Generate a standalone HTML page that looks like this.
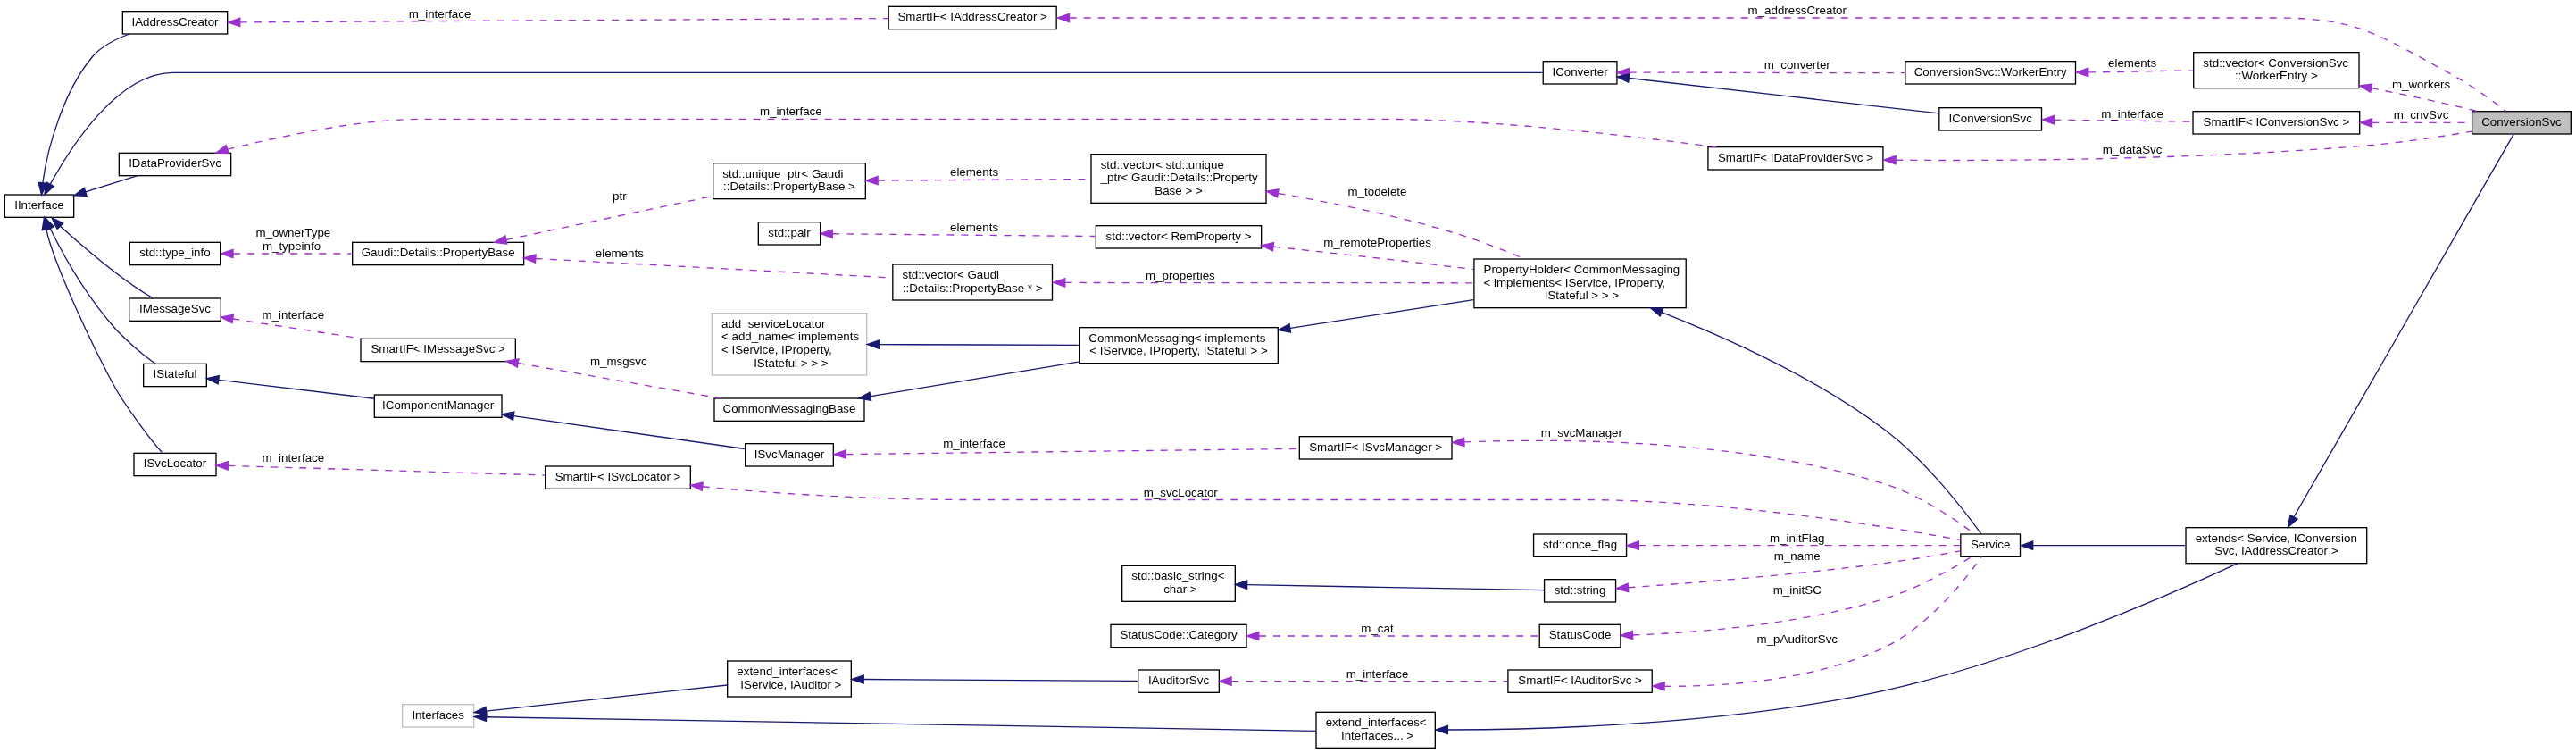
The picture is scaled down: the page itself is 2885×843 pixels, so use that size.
<!DOCTYPE html>
<html><head><meta charset="utf-8"><title>ConversionSvc collaboration graph</title>
<style>
html,body{margin:0;padding:0;background:#fff;}
body{width:2885px;height:843px;overflow:hidden;}
svg{display:block;will-change:transform;}
svg text{white-space:pre;font-family:"Liberation Sans",sans-serif;font-size:13.33px;fill:#000;}
svg rect,svg path,svg polygon{stroke-width:1.33;}
</style></head><body>
<svg width="2885" height="843" viewBox="0 0 2885 843">
<rect x="2768.63" y="124.67" width="110.67" height="25.33" fill="#bfbfbf" stroke="black"/>
<text text-anchor="middle" x="2823.97" y="140.67">ConversionSvc</text>
<rect x="2448.03" y="590.67" width="202.67" height="40" fill="white" stroke="black"/>
<text text-anchor="start" x="2458.7" y="606.67">extends&lt; Service, IConversion</text>
<text text-anchor="middle" x="2549.36" y="621.33">Svc, IAddressCreator &gt;</text>
<rect x="2195.83" y="598" width="66.67" height="25.33" fill="white" stroke="black"/>
<text text-anchor="middle" x="2229.17" y="614">Service</text>
<rect x="1650.9" y="290" width="237.33" height="54.67" fill="white" stroke="black"/>
<text text-anchor="start" x="1661.57" y="306">PropertyHolder&lt; CommonMessaging</text>
<text text-anchor="start" x="1661.57" y="320.67">&lt; implements&lt; IService, IProperty,</text>
<text text-anchor="middle" x="1769.57" y="335.33"> IStateful &gt; &gt; &gt;</text>
<rect x="1208.67" y="366.67" width="222.67" height="40" fill="white" stroke="black"/>
<text text-anchor="start" x="1219.33" y="382.67">CommonMessaging&lt; implements</text>
<text text-anchor="middle" x="1320" y="397.33">&lt; IService, IProperty, IStateful &gt; &gt;</text>
<rect x="797.33" y="350.67" width="173.33" height="69.33" fill="white" stroke="#bfbfbf"/>
<text text-anchor="start" x="808" y="366.67">add_serviceLocator</text>
<text text-anchor="start" x="808" y="381.33">&lt; add_name&lt; implements</text>
<text text-anchor="start" x="808" y="396">&lt; IService, IProperty,</text>
<text text-anchor="middle" x="884" y="410.67"> IStateful &gt; &gt; &gt;</text>
<rect x="800" y="446" width="168" height="25.33" fill="white" stroke="black"/>
<text text-anchor="middle" x="884" y="462">CommonMessagingBase</text>
<rect x="404" y="379.34" width="173.33" height="25.33" fill="white" stroke="black"/>
<text text-anchor="middle" x="490.66" y="395.34">SmartIF&lt; IMessageSvc &gt;</text>
<rect x="144.66" y="334" width="102.67" height="25.33" fill="white" stroke="black"/>
<text text-anchor="middle" x="195.99" y="350">IMessageSvc</text>
<rect x="5.33" y="218" width="77.33" height="25.33" fill="white" stroke="black"/>
<text text-anchor="middle" x="44" y="234">IInterface</text>
<rect x="160.66" y="407.33" width="70.67" height="25.33" fill="white" stroke="black"/>
<text text-anchor="middle" x="195.99" y="423.33">IStateful</text>
<rect x="149.99" y="507.33" width="92" height="25.33" fill="white" stroke="black"/>
<text text-anchor="middle" x="195.99" y="523.33">ISvcLocator</text>
<rect x="137.33" y="12.67" width="117.33" height="25.33" fill="white" stroke="black"/>
<text text-anchor="middle" x="195.99" y="28.67">IAddressCreator</text>
<rect x="1728.23" y="68.67" width="82.67" height="25.33" fill="white" stroke="black"/>
<text text-anchor="middle" x="1769.57" y="84.67">IConverter</text>
<rect x="133.33" y="171.33" width="125.33" height="25.33" fill="white" stroke="black"/>
<text text-anchor="middle" x="195.99" y="187.33">IDataProviderSvc</text>
<rect x="999.83" y="296" width="178.67" height="40" fill="white" stroke="black"/>
<text text-anchor="start" x="1010.5" y="312">std::vector&lt; Gaudi</text>
<text text-anchor="middle" x="1089.17" y="326.66">::Details::PropertyBase * &gt;</text>
<rect x="394.66" y="271.33" width="192" height="25.33" fill="white" stroke="black"/>
<text text-anchor="middle" x="490.66" y="287.33">Gaudi::Details::PropertyBase</text>
<rect x="798.67" y="182.67" width="170.67" height="40" fill="white" stroke="black"/>
<text text-anchor="start" x="809.33" y="198.67">std::unique_ptr&lt; Gaudi</text>
<text text-anchor="middle" x="884" y="213.33">::Details::PropertyBase &gt;</text>
<rect x="145.33" y="271.33" width="101.33" height="25.33" fill="white" stroke="black"/>
<text text-anchor="middle" x="195.99" y="287.33">std::type_info</text>
<rect x="1227.33" y="252.67" width="185.33" height="25.33" fill="white" stroke="black"/>
<text text-anchor="middle" x="1320" y="268.67">std::vector&lt; RemProperty &gt;</text>
<rect x="849.33" y="248.67" width="69.33" height="25.33" fill="white" stroke="black"/>
<text text-anchor="middle" x="884" y="264.67">std::pair</text>
<rect x="1222" y="172.67" width="196" height="54.67" fill="white" stroke="black"/>
<text text-anchor="start" x="1232.67" y="188.67">std::vector&lt; std::unique</text>
<text text-anchor="start" x="1232.67" y="203.33">_ptr&lt; Gaudi::Details::Property</text>
<text text-anchor="middle" x="1320" y="218">Base &gt; &gt;</text>
<rect x="1717.57" y="598" width="104" height="25.33" fill="white" stroke="black"/>
<text text-anchor="middle" x="1769.57" y="614">std::once_flag</text>
<rect x="1455.33" y="488.67" width="170.67" height="25.33" fill="white" stroke="black"/>
<text text-anchor="middle" x="1540.67" y="504.67">SmartIF&lt; ISvcManager &gt;</text>
<rect x="834.67" y="496.67" width="98.67" height="25.33" fill="white" stroke="black"/>
<text text-anchor="middle" x="884" y="512.67">ISvcManager</text>
<rect x="419.33" y="442" width="142.67" height="25.33" fill="white" stroke="black"/>
<text text-anchor="middle" x="490.66" y="458">IComponentManager</text>
<rect x="1729.57" y="648.67" width="80" height="25.33" fill="white" stroke="black"/>
<text text-anchor="middle" x="1769.57" y="664.67">std::string</text>
<rect x="1256.67" y="633.33" width="126.67" height="40" fill="white" stroke="black"/>
<text text-anchor="start" x="1267.33" y="649.33">std::basic_string&lt;</text>
<text text-anchor="middle" x="1320" y="664"> char &gt;</text>
<rect x="610.67" y="522" width="162.67" height="25.33" fill="white" stroke="black"/>
<text text-anchor="middle" x="692" y="538">SmartIF&lt; ISvcLocator &gt;</text>
<rect x="1724.23" y="699.33" width="90.67" height="25.33" fill="white" stroke="black"/>
<text text-anchor="middle" x="1769.57" y="715.33">StatusCode</text>
<rect x="1244" y="699.33" width="152" height="25.33" fill="white" stroke="black"/>
<text text-anchor="middle" x="1320" y="715.33">StatusCode::Category</text>
<rect x="1688.9" y="750" width="161.33" height="25.33" fill="white" stroke="black"/>
<text text-anchor="middle" x="1769.57" y="766">SmartIF&lt; IAuditorSvc &gt;</text>
<rect x="1274.67" y="750" width="90.67" height="25.33" fill="white" stroke="black"/>
<text text-anchor="middle" x="1320" y="766">IAuditorSvc</text>
<rect x="814.67" y="740" width="138.67" height="40" fill="white" stroke="black"/>
<text text-anchor="start" x="825.33" y="756">extend_interfaces&lt;</text>
<text text-anchor="middle" x="884" y="770.67"> IService, IAuditor &gt;</text>
<rect x="450.66" y="788.67" width="80" height="25.33" fill="white" stroke="#bfbfbf"/>
<text text-anchor="middle" x="490.66" y="804.67">Interfaces</text>
<rect x="1474" y="797.33" width="133.33" height="40" fill="white" stroke="black"/>
<text text-anchor="start" x="1484.67" y="813.33">extend_interfaces&lt;</text>
<text text-anchor="middle" x="1540.67" y="828"> Interfaces... &gt;</text>
<rect x="995.17" y="7.33" width="188" height="25.33" fill="white" stroke="black"/>
<text text-anchor="middle" x="1089.17" y="23.33">SmartIF&lt; IAddressCreator &gt;</text>
<rect x="2456.7" y="58.67" width="185.33" height="40" fill="white" stroke="black"/>
<text text-anchor="start" x="2467.36" y="74.67">std::vector&lt; ConversionSvc</text>
<text text-anchor="middle" x="2549.36" y="89.33">::WorkerEntry &gt;</text>
<rect x="2133.83" y="68.66" width="190.67" height="25.33" fill="white" stroke="black"/>
<text text-anchor="middle" x="2229.17" y="84.66">ConversionSvc::WorkerEntry</text>
<rect x="2171.83" y="120.67" width="114.67" height="25.33" fill="white" stroke="black"/>
<text text-anchor="middle" x="2229.17" y="136.67">IConversionSvc</text>
<rect x="2456.03" y="124.67" width="186.67" height="25.33" fill="white" stroke="black"/>
<text text-anchor="middle" x="2549.36" y="140.67">SmartIF&lt; IConversionSvc &gt;</text>
<rect x="1912.93" y="164.66" width="196" height="25.33" fill="white" stroke="black"/>
<text text-anchor="middle" x="2010.93" y="180.66">SmartIF&lt; IDataProviderSvc &gt;</text>
<path fill="none" stroke="midnightblue" d="M2569.33,578.25 C2623.45,484.04 2779.16,213 2815.15,150.36"/>
<polygon fill="midnightblue" stroke="midnightblue" points="2573.08,581.08 2562.4,590.33 2564.98,576.44 2573.08,581.08"/>
<path fill="none" stroke="midnightblue" d="M2276.84,610.67 C2321.3,610.67 2389.95,610.67 2447.05,610.67"/>
<polygon fill="midnightblue" stroke="midnightblue" points="2276.72,615.33 2263.39,610.67 2276.72,606 2276.72,615.33"/>
<path fill="none" stroke="midnightblue" d="M1861.05,349.57 C1932.43,377.61 2032.56,422.73 2109.34,480 2157,515.55 2200.47,572.25 2218.74,597.64"/>
<polygon fill="midnightblue" stroke="midnightblue" points="1859.29,353.89 1848.55,344.71 1862.67,345.2 1859.29,353.89"/>
<path fill="none" stroke="midnightblue" d="M1445.01,367.44 C1509,357.49 1586.87,345.41 1650.2,335.61"/>
<polygon fill="midnightblue" stroke="midnightblue" points="1445.47,372.09 1431.59,369.53 1444.04,362.87 1445.47,372.09"/>
<path fill="none" stroke="midnightblue" d="M984.7,385.64 C1051.15,385.84 1138.85,386.12 1207.76,386.32"/>
<polygon fill="midnightblue" stroke="midnightblue" points="984.63,390.31 971.31,385.6 984.66,380.97 984.63,390.31"/>
<path fill="none" stroke="midnightblue" d="M975.21,443.71 C1042.64,432.47 1135.52,417.04 1207.76,405.05"/>
<polygon fill="midnightblue" stroke="midnightblue" points="975.6,448.37 961.68,445.96 974.06,439.16 975.6,448.37"/>
<path fill="none" stroke="#9a32cd" stroke-dasharray="8,8" d="M580.13,406.53 C580.13,406.53 807.5,446 807.5,446"/>
<polygon fill="#9a32cd" stroke="#9a32cd" points="579.33,411.13 567,404.25 580.93,401.93 579.33,411.13"/>
<text text-anchor="middle" x="691" y="409"> m_msgsvc</text>
<path fill="none" stroke="#9a32cd" stroke-dasharray="8,8" d="M260.68,357.01 C260.68,357.01 406.25,379.25 406.25,379.25"/>
<polygon fill="#9a32cd" stroke="#9a32cd" points="259.97,361.63 247.5,355 261.38,352.4 259.97,361.63"/>
<text text-anchor="middle" x="326.51" y="357.22"> m_interface</text>
<path fill="none" stroke="midnightblue" d="M67.37,253.18 C95,278 140,316 171.25,333.75"/>
<polygon fill="midnightblue" stroke="midnightblue" points="64.05,256.46 58,243.7 70.69,249.89 64.05,256.46"/>
<path fill="none" stroke="midnightblue" d="M56.16,255.77 C73,290 98,333 130,369 141,380.6 160.3,398 173.75,406.75"/>
<polygon fill="midnightblue" stroke="midnightblue" points="51.93,257.75 50.5,243.7 60.39,253.79 51.93,257.75"/>
<path fill="none" stroke="midnightblue" d="M51.8,256.81 C60.5,296 104,389 130,436 140.1,453.2 167.6,491.6 181.25,506.25"/>
<polygon fill="midnightblue" stroke="midnightblue" points="47.21,257.65 49.4,243.7 56.4,255.97 47.21,257.65"/>
<path fill="none" stroke="midnightblue" d="M47.84,204.84 C53,165 72,100 104,63 114,51.5 130,43.5 145,38"/>
<polygon fill="midnightblue" stroke="midnightblue" points="52.48,205.31 46.5,218.1 43.19,204.37 52.48,205.31"/>
<path fill="none" stroke="midnightblue" d="M56.14,206.38 C78,167 131,81.33 194,81.33 194,81.33 194,81.33 1322,81.33 1470,81.33 1650,81.33 1727.5,81.33"/>
<polygon fill="midnightblue" stroke="midnightblue" points="60.25,208.6 49.8,218.1 52.04,204.15 60.25,208.6"/>
<path fill="none" stroke="midnightblue" d="M95.72,214.82 C95.72,214.82 154,196.6 154,196.6"/>
<polygon fill="midnightblue" stroke="midnightblue" points="97.12,219.28 83,218.8 94.33,210.36 97.12,219.28"/>
<path fill="none" stroke="#9a32cd" stroke-dasharray="8,8" d="M1192.85,316.4 C1315.84,316.88 1520.53,316.36 1649.93,316.87"/>
<polygon fill="#9a32cd" stroke="#9a32cd" points="1192.77,321.06 1179.47,316.34 1192.81,311.73 1192.77,321.06"/>
<text text-anchor="middle" x="1320" y="312.96"> m_properties</text>
<path fill="none" stroke="#9a32cd" stroke-dasharray="8,8" d="M599.81,289.47 C599.81,289.47 999.5,311 999.5,311"/>
<polygon fill="#9a32cd" stroke="#9a32cd" points="599.56,294.13 586.5,288.75 600.06,284.8 599.56,294.13"/>
<text text-anchor="middle" x="692" y="287.5"> elements</text>
<path fill="none" stroke="#9a32cd" stroke-dasharray="8,8" d="M566.79,268.49 C566.79,268.49 798.5,219.5 798.5,219.5"/>
<polygon fill="#9a32cd" stroke="#9a32cd" points="567.76,273.06 553.75,271.25 565.83,263.92 567.76,273.06"/>
<text text-anchor="middle" x="692" y="224"> ptr</text>
<path fill="none" stroke="#9a32cd" stroke-dasharray="8,8" d="M261.22,284 C299.87,284 349.88,284 393.23,284"/>
<polygon fill="#9a32cd" stroke="#9a32cd" points="260.98,288.66 247.65,284 260.98,279.33 260.98,288.66"/>
<text text-anchor="middle" x="326.51" y="265.33"> m_ownerType</text>
<text text-anchor="middle" x="326.51" y="280">m_typeinfo</text>
<path fill="none" stroke="#9a32cd" stroke-dasharray="8,8" d="M1426.16,276.21 C1484.95,282.47 1559.67,290.65 1626.34,298.67 1634.11,299.6 1642.12,300.59 1650.18,301.6"/>
<polygon fill="#9a32cd" stroke="#9a32cd" points="1425.48,280.84 1412.72,274.79 1426.47,271.56 1425.48,280.84"/>
<text text-anchor="middle" x="1540.67" y="276"> m_remoteProperties</text>
<path fill="none" stroke="#9a32cd" stroke-dasharray="8,8" d="M932.48,261.77 C1002.66,262.41 1136.18,263.65 1226.43,264.48"/>
<polygon fill="#9a32cd" stroke="#9a32cd" points="932.22,266.44 918.94,261.64 932.32,257.11 932.22,266.44"/>
<text text-anchor="middle" x="1089.17" y="258.67"> elements</text>
<path fill="none" stroke="#9a32cd" stroke-dasharray="8,8" d="M1431.57,216.48 C1490.01,226.52 1562.7,241.09 1626.34,260 1653.59,268.09 1682.85,279.44 1707.68,289.91"/>
<polygon fill="#9a32cd" stroke="#9a32cd" points="1430.56,221.04 1418.19,214.21 1432.12,211.84 1430.56,221.04"/>
<text text-anchor="middle" x="1540.67" y="218.67"> m_todelete</text>
<path fill="none" stroke="#9a32cd" stroke-dasharray="8,8" d="M983.15,202.07 C1054.17,201.63 1150.11,201.04 1221.25,200.6"/>
<polygon fill="#9a32cd" stroke="#9a32cd" points="983.12,206.73 969.76,202.15 983.07,197.4 983.12,206.73"/>
<text text-anchor="middle" x="1089.17" y="197.33"> elements</text>
<path fill="none" stroke="#9a32cd" stroke-dasharray="8,8" d="M1835.34,610.67 C1934.45,610.67 2120.76,610.67 2195.56,610.67"/>
<polygon fill="#9a32cd" stroke="#9a32cd" points="1835.33,615.33 1822,610.67 1835.33,606 1835.33,615.33"/>
<text text-anchor="middle" x="2010.93" y="606.67"> m_initFlag</text>
<path fill="none" stroke="#9a32cd" stroke-dasharray="8,8" d="M1640.08,494.93 C1755.23,490.41 1950.51,492.21 2109.34,541.33 2149.21,553.65 2189.94,581.53 2211.72,597.93"/>
<polygon fill="#9a32cd" stroke="#9a32cd" points="1640.02,499.6 1626.5,495.51 1639.62,490.28 1640.02,499.6"/>
<text text-anchor="middle" x="1769.57" y="489.33"> m_svcManager</text>
<path fill="none" stroke="#9a32cd" stroke-dasharray="8,8" d="M947.59,508.57 C1065.41,507.13 1322.01,504 1454.93,502.37"/>
<polygon fill="#9a32cd" stroke="#9a32cd" points="947.35,513.24 933.95,508.73 947.23,503.91 947.35,513.24"/>
<text text-anchor="middle" x="1089.17" y="500.67"> m_interface</text>
<path fill="none" stroke="midnightblue" d="M575.2,465.63 C575.2,465.63 834.25,502.5 834.25,502.5"/>
<polygon fill="midnightblue" stroke="midnightblue" points="574.54,470.25 562,463.75 575.86,461 574.54,470.25"/>
<path fill="none" stroke="midnightblue" d="M244.74,425.34 C244.74,425.34 419.25,446.25 419.25,446.25"/>
<polygon fill="midnightblue" stroke="midnightblue" points="244.18,429.97 231.5,423.75 245.29,420.7 244.18,429.97"/>
<path fill="none" stroke="#9a32cd" stroke-dasharray="8,8" d="M1823.5,657.83 C1890.14,653.09 2008.47,643.72 2109.34,630.67 2138.51,626.89 2171.49,621.2 2195.24,616.87"/>
<polygon fill="#9a32cd" stroke="#9a32cd" points="1823.75,662.49 1810.12,658.76 1823.1,653.17 1823.75,662.49"/>
<text text-anchor="middle" x="2010.93" y="626.67"> m_name</text>
<path fill="none" stroke="midnightblue" d="M1396.99,654.69 C1492.79,656.41 1654.71,659.31 1728.95,660.63"/>
<polygon fill="midnightblue" stroke="midnightblue" points="1396.6,659.35 1383.35,654.44 1396.76,650.01 1396.6,659.35"/>
<path fill="none" stroke="#9a32cd" stroke-dasharray="8,8" d="M786.75,544.72 C867,553 985,559.5 1088,559.5 1088,559.5 1088,559.5 1770,559.5 1930,559.5 2120,590.4 2195.5,604.6"/>
<polygon fill="#9a32cd" stroke="#9a32cd" points="786.23,549.36 773.5,543.25 787.26,540.08 786.23,549.36"/>
<text text-anchor="middle" x="1320.4" y="556"> m_svcLocator</text>
<path fill="none" stroke="#9a32cd" stroke-dasharray="8,8" d="M255.32,521.4 C255.32,521.4 610,532 610,532"/>
<polygon fill="#9a32cd" stroke="#9a32cd" points="255.18,526.07 242,521 255.46,516.73 255.18,526.07"/>
<text text-anchor="middle" x="326.5" y="516.5"> m_interface</text>
<path fill="none" stroke="#9a32cd" stroke-dasharray="8,8" d="M1828.59,711 C1896.95,708.44 2013.65,699.75 2109.34,670.67 2145.98,659.53 2184.92,637.61 2207.77,623.57"/>
<polygon fill="#9a32cd" stroke="#9a32cd" points="1828.68,715.67 1815.2,711.44 1828.38,706.33 1828.68,715.67"/>
<text text-anchor="middle" x="2010.93" y="665.17"> m_initSC</text>
<path fill="none" stroke="#9a32cd" stroke-dasharray="8,8" d="M1410.05,712 C1504.6,712 1650.91,712 1723.83,712"/>
<polygon fill="#9a32cd" stroke="#9a32cd" points="1409.83,716.67 1396.49,712 1409.83,707.33 1409.83,716.67"/>
<text text-anchor="middle" x="1540.67" y="708"> m_cat</text>
<path fill="none" stroke="#9a32cd" stroke-dasharray="8,8" d="M1864.45,768.27 C1934.95,768.8 2032.33,761.49 2109.34,725.33 2159.67,701.69 2201.76,648.04 2219.2,623.43"/>
<polygon fill="#9a32cd" stroke="#9a32cd" points="1864.03,772.92 1850.76,768.05 1864.16,763.59 1864.03,772.92"/>
<text text-anchor="middle" x="2010.93" y="720.33"> m_pAuditorSvc</text>
<path fill="none" stroke="#9a32cd" stroke-dasharray="8,8" d="M1379.2,762.67 C1457.88,762.67 1599.16,762.67 1688.18,762.67"/>
<polygon fill="#9a32cd" stroke="#9a32cd" points="1379.07,767.33 1365.73,762.67 1379.07,758 1379.07,767.33"/>
<text text-anchor="middle" x="1540.67" y="758.67"> m_interface</text>
<path fill="none" stroke="midnightblue" d="M967.42,760.51 C1058.26,761.07 1201.8,761.95 1274.05,762.39"/>
<polygon fill="midnightblue" stroke="midnightblue" points="967.19,765.17 953.88,760.43 967.24,755.84 967.19,765.17"/>
<path fill="none" stroke="midnightblue" d="M544.5,796.07 C544.5,796.07 814.5,767 814.5,767"/>
<polygon fill="midnightblue" stroke="midnightblue" points="545,800.72 531.25,797.5 544,791.43 545,800.72"/>
<path fill="none" stroke="midnightblue" d="M544.58,802.72 C544.58,802.72 1474,818.3 1474,818.3"/>
<polygon fill="midnightblue" stroke="midnightblue" points="544.5,807.39 531.25,802.5 544.66,798.05 544.5,807.39"/>
<path fill="none" stroke="midnightblue" d="M1621.66,817 C1732.41,816.81 1938.4,810.75 2109.34,773.33 2260.37,740.32 2429.57,666.36 2506.24,630.68"/>
<polygon fill="midnightblue" stroke="midnightblue" points="1621.37,821.67 1608.04,816.99 1621.38,812.33 1621.37,821.67"/>
<path fill="none" stroke="#9a32cd" stroke-dasharray="8,8" d="M1197.78,20 C1289,20 1422.8,20 1539.33,20 1539.33,20 1539.33,20 2550.7,20 2641.23,20 2664.84,39.69 2744.46,82.67 2767.2,94.95 2791.25,112.56 2806.57,124.44"/>
<polygon fill="#9a32cd" stroke="#9a32cd" points="1197.5,24.67 1184.16,20 1197.5,15.33 1197.5,24.67"/>
<text text-anchor="middle" x="2010.93" y="16"> m_addressCreator</text>
<path fill="none" stroke="#9a32cd" stroke-dasharray="8,8" d="M268.87,24.91 C429.64,23.95 816.6,21.63 994.94,20.56"/>
<polygon fill="#9a32cd" stroke="#9a32cd" points="268.88,29.57 255.52,24.99 268.83,20.24 268.88,29.57"/>
<text text-anchor="middle" x="490.66" y="20"> m_interface</text>
<path fill="none" stroke="#9a32cd" stroke-dasharray="8,8" d="M2656.04,98.63 C2684.78,104.36 2715.88,110.83 2744.46,117.33 2754.29,119.57 2764.78,122.13 2774.78,124.65"/>
<polygon fill="#9a32cd" stroke="#9a32cd" points="2654.77,103.13 2642.61,95.96 2656.6,93.97 2654.77,103.13"/>
<text text-anchor="middle" x="2709.72" y="98.67"> m_workers</text>
<path fill="none" stroke="#9a32cd" stroke-dasharray="8,8" d="M2339.12,80.88 C2377.1,80.72 2419.35,79.21 2455.86,79.05"/>
<polygon fill="#9a32cd" stroke="#9a32cd" points="2338.79,85.54 2325.44,80.93 2338.75,76.21 2338.79,85.54"/>
<text text-anchor="middle" x="2386.24" y="75.49"> elements</text>
<path fill="none" stroke="#9a32cd" stroke-dasharray="8,8" d="M1824.86,81.17 C1900.64,80.96 2039.79,81.88 2133.1,81.61"/>
<polygon fill="#9a32cd" stroke="#9a32cd" points="1824.42,85.84 1811.07,81.21 1824.39,76.51 1824.42,85.84"/>
<text text-anchor="middle" x="2010.93" y="77.14"> m_converter</text>
<path fill="none" stroke="midnightblue" d="M1824.75,87.47 C1911.81,97.37 2082.68,116.83 2171.41,126.92"/>
<polygon fill="midnightblue" stroke="midnightblue" points="1823.78,92.05 1811.07,85.91 1824.85,82.77 1823.78,92.05"/>
<path fill="none" stroke="#9a32cd" stroke-dasharray="8,8" d="M2656.53,137.33 C2694.83,137.33 2736.48,137.33 2768.5,137.33"/>
<polygon fill="#9a32cd" stroke="#9a32cd" points="2656.51,142 2643.17,137.33 2656.51,132.67 2656.51,142"/>
<text text-anchor="middle" x="2709.72" y="133.33"> m_cnvSvc</text>
<path fill="none" stroke="#9a32cd" stroke-dasharray="8,8" d="M2300.49,134.21 C2345.86,134.79 2405.47,135.53 2454.82,136.16"/>
<polygon fill="#9a32cd" stroke="#9a32cd" points="2300.27,138.88 2287,134.04 2300.39,129.55 2300.27,138.88"/>
<text text-anchor="middle" x="2386.24" y="132"> m_interface</text>
<path fill="none" stroke="#9a32cd" stroke-dasharray="8,8" d="M2123.32,179.21 C2250.83,180.41 2466.62,178.34 2650.92,162.91 2690.41,159.6 2734.64,152.76 2768.31,147.13"/>
<polygon fill="#9a32cd" stroke="#9a32cd" points="2123.09,183.88 2109.8,179.08 2123.18,174.54 2123.09,183.88"/>
<text text-anchor="middle" x="2386.24" y="171.79"> m_dataSvc</text>
<path fill="none" stroke="#9a32cd" stroke-dasharray="8,8" d="M254.67,167.11 C320,152 400,133.3 476,133.3 476,133.3 476,133.3 1542,133.3 1675,133.3 1830,153 1922,164.5"/>
<polygon fill="#9a32cd" stroke="#9a32cd" points="256.12,171.55 242,171.25 253.22,162.67 256.12,171.55"/>
<text text-anchor="middle" x="884" y="128.5"> m_interface</text>
</svg>
</body></html>
